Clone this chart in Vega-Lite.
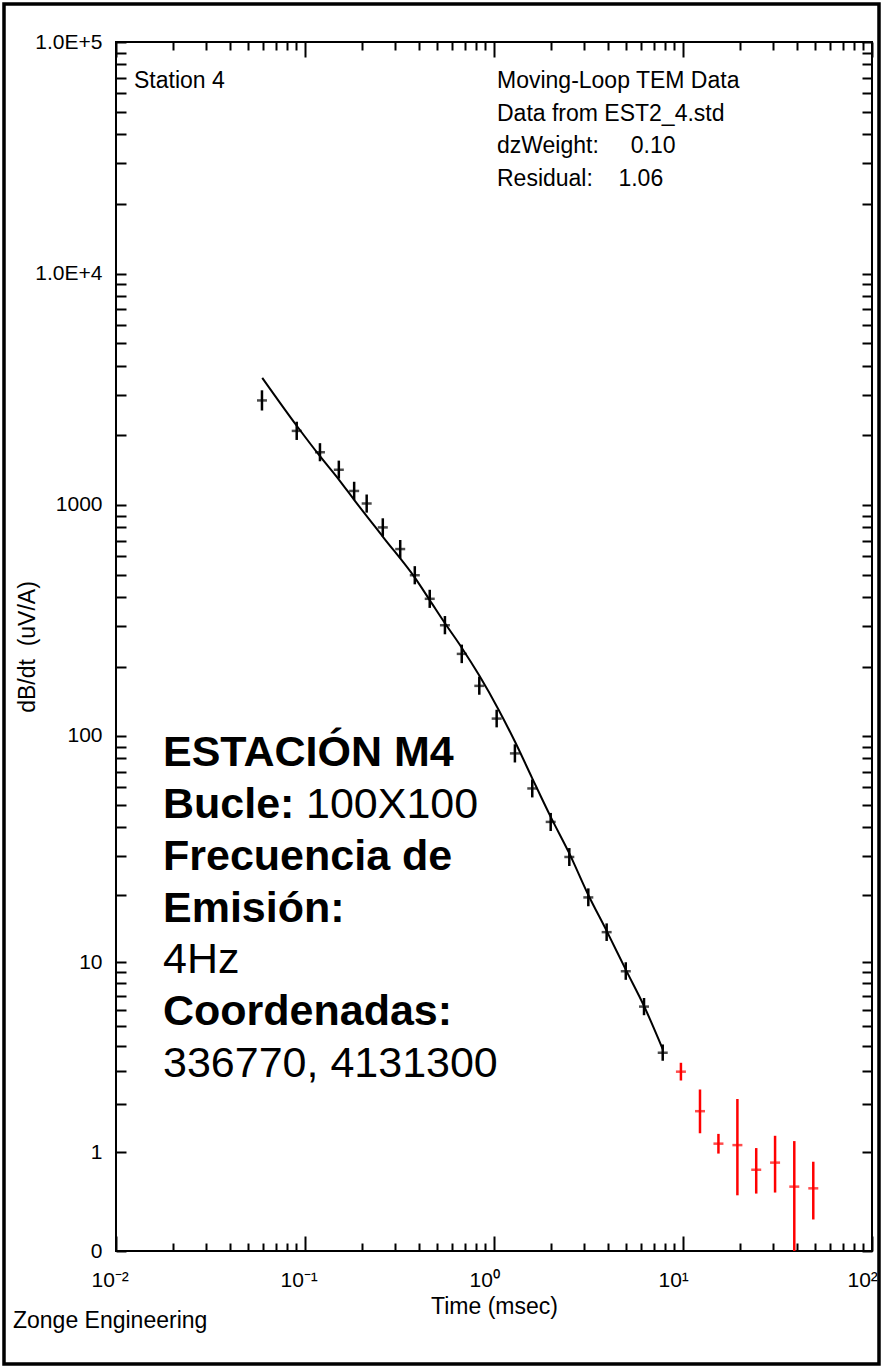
{
  "$schema": "https://vega.github.io/schema/vega-lite/v6.json",
  "width": 756,
  "height": 1209,
  "autosize": {"type": "none"},
  "padding": {"left": 116, "top": 42, "right": 10, "bottom": 116},
  "background": "white",
  "config": {
    "view": {"stroke": "black", "strokeWidth": 2},
    "font": "Liberation Sans",
    "axis": {
      "domain": false,
      "grid": false,
      "labelFont": "Liberation Sans",
      "titleFont": "Liberation Sans",
      "labelColor": "black",
      "titleColor": "black",
      "tickColor": "black",
      "tickWidth": 2,
      "labelOverlap": false,
      "labelFlush": false,
      "titleFontWeight": "normal"
    },
    "text": {"color": "black"}
  },
  "datasets": {
    "pts": [
      {"t": 0.0592, "v": 2830, "lo": 2560, "hi": 3130, "grp": "fit"},
      {"t": 0.0904, "v": 2090, "lo": 1910, "hi": 2290, "grp": "fit"},
      {"t": 0.120, "v": 1690, "lo": 1545, "hi": 1850, "grp": "fit"},
      {"t": 0.151, "v": 1420, "lo": 1300, "hi": 1555, "grp": "fit"},
      {"t": 0.182, "v": 1150, "lo": 1050, "hi": 1260, "grp": "fit"},
      {"t": 0.212, "v": 1015, "lo": 927, "hi": 1110, "grp": "fit"},
      {"t": 0.258, "v": 800, "lo": 730, "hi": 876, "grp": "fit"},
      {"t": 0.319, "v": 645, "lo": 589, "hi": 706, "grp": "fit"},
      {"t": 0.381, "v": 497, "lo": 454, "hi": 544, "grp": "fit"},
      {"t": 0.457, "v": 393, "lo": 359, "hi": 430, "grp": "fit"},
      {"t": 0.550, "v": 302, "lo": 276, "hi": 331, "grp": "fit"},
      {"t": 0.675, "v": 227, "lo": 207, "hi": 249, "grp": "fit"},
      {"t": 0.836, "v": 165, "lo": 151, "hi": 181, "grp": "fit"},
      {"t": 1.033, "v": 119, "lo": 109, "hi": 130, "grp": "fit"},
      {"t": 1.29, "v": 84, "lo": 76.7, "hi": 92, "grp": "fit"},
      {"t": 1.594, "v": 59.1, "lo": 54, "hi": 64.7, "grp": "fit"},
      {"t": 1.995, "v": 42.2, "lo": 38.5, "hi": 46.2, "grp": "fit"},
      {"t": 2.503, "v": 29.6, "lo": 27.0, "hi": 32.4, "grp": "fit"},
      {"t": 3.155, "v": 19.6, "lo": 17.9, "hi": 21.5, "grp": "fit"},
      {"t": 3.945, "v": 13.7, "lo": 12.5, "hi": 15.0, "grp": "fit"},
      {"t": 4.98, "v": 9.1, "lo": 8.3, "hi": 10.0, "grp": "fit"},
      {"t": 6.22, "v": 6.22, "lo": 5.66, "hi": 6.83, "grp": "fit"},
      {"t": 7.81, "v": 3.71, "lo": 3.38, "hi": 4.08, "grp": "fit"},
      {"t": 9.75, "v": 2.97, "lo": 2.67, "hi": 3.30, "grp": "masked"},
      {"t": 12.3, "v": 1.81, "lo": 1.335, "hi": 2.39, "grp": "masked"},
      {"t": 15.4, "v": 1.145, "lo": 0.981, "hi": 1.323, "grp": "masked"},
      {"t": 19.4, "v": 1.12, "lo": 0.444, "hi": 2.12, "grp": "masked"},
      {"t": 24.4, "v": 0.746, "lo": 0.462, "hi": 1.07, "grp": "masked"},
      {"t": 30.7, "v": 0.845, "lo": 0.473, "hi": 1.287, "grp": "masked"},
      {"t": 38.8, "v": 0.538, "lo": 0, "hi": 1.19, "grp": "masked"},
      {"t": 48.9, "v": 0.519, "lo": 0.221, "hi": 0.858, "grp": "masked"}
    ],
    "model": [
      {"t": 0.0594, "v": 3543},
      {"t": 0.0904, "v": 2200},
      {"t": 0.120, "v": 1625},
      {"t": 0.1514, "v": 1285},
      {"t": 0.1824, "v": 1050},
      {"t": 0.2596, "v": 725},
      {"t": 0.382, "v": 484},
      {"t": 0.457, "v": 388},
      {"t": 0.5504, "v": 308},
      {"t": 0.675, "v": 241.5},
      {"t": 0.836, "v": 182.8},
      {"t": 1.054, "v": 130.7},
      {"t": 1.29, "v": 94.6},
      {"t": 1.594, "v": 65.4},
      {"t": 1.995, "v": 44.4},
      {"t": 2.503, "v": 30.7},
      {"t": 3.155, "v": 20.1},
      {"t": 3.945, "v": 13.88},
      {"t": 4.98, "v": 9.25},
      {"t": 6.22, "v": 6.26},
      {"t": 7.81, "v": 3.87}
    ]
  },
  "layer": [
    {
      "data": {"values": [{}]},
      "mark": {"type": "rect", "fill": "transparent", "stroke": "black", "strokeWidth": 3.5},
      "encoding": {
        "x": {"datum": 0.002555, "type": "quantitative", "scale": {"type": "log", "domain": [0.01, 100], "nice": false}, "axis": null},
        "x2": {"datum": 108.9},
        "y": {"datum": -1.246, "type": "quantitative", "scale": {"type": "symlog", "constant": 0.6, "domain": [0, 100000], "nice": false, "zero": false}, "axis": null},
        "y2": {"datum": 145930}
      }
    },
    {
      "data": {"name": "model"},
      "mark": {"type": "line", "color": "black", "strokeWidth": 2, "interpolate": "monotone"},
      "encoding": {
        "x": {
          "field": "t", "type": "quantitative",
          "axis": {
            "orient": "bottom",
            "values": [0.01,0.02,0.03,0.04,0.05,0.06,0.07,0.08,0.09,0.1,0.2,0.3,0.4,0.5,0.6,0.7,0.8,0.9,1,2,3,4,5,6,7,8,9,10,20,30,40,50,60,70,80,90,100],
            "labelExpr": "datum.value == 0.01 ? '10⁻²' : datum.value == 0.1 ? '10⁻¹' : datum.value == 1 ? '10⁰' : datum.value == 10 ? '10¹' : datum.value == 100 ? '10²' : ''",
            "tickSize": {"condition": {"test": "indexof([0.01, 0.1, 1, 10, 100], datum.value) >= 0", "value": -15}, "value": -8},
            "labelPadding": 33,
            "labelFontSize": 21,
            "labelAlign": "left",
            "labelOffset": -25,
            "labelBaseline": "top",
            "title": "Time (msec)",
            "titleFontSize": 23,
            "titlePadding": -2
          }
        },
        "y": {
          "field": "v", "type": "quantitative",
          "axis": {
            "orient": "left",
            "values": [0,1,2,3,4,5,6,7,8,9,10,20,30,40,50,60,70,80,90,100,200,300,400,500,600,700,800,900,1000,2000,3000,4000,5000,6000,7000,8000,9000,10000,20000,30000,40000,50000,60000,70000,80000,90000,100000],
            "labelExpr": "datum.value == 100000 ? '1.0E+5' : datum.value == 10000 ? '1.0E+4' : indexof([0, 1, 10, 100, 1000], datum.value) >= 0 ? '' + datum.value : ''",
            "tickSize": -10,
            "labelPadding": 24,
            "labelFontSize": 21,
            "title": "dB/dt\u00a0 (uV/A)",
            "titleFontSize": 23,
            "titlePadding": -5
          }
        }
      }
    },
    {
      "data": {"name": "pts"},
      "mark": {"type": "rule", "strokeWidth": 2.5},
      "encoding": {
        "x": {"field": "t", "type": "quantitative", "axis": null},
        "y": {"field": "lo", "type": "quantitative", "axis": null},
        "y2": {"field": "hi"},
        "color": {"field": "grp", "type": "nominal", "scale": {"domain": ["fit", "masked"], "range": ["#000000", "#ff0000"]}, "legend": null}
      }
    },
    {
      "data": {"name": "pts"},
      "mark": {"type": "tick", "orient": "horizontal", "size": 10, "thickness": 2.5},
      "encoding": {
        "x": {
          "field": "t", "type": "quantitative",
          "axis": {
            "orient": "top",
            "values": [0.01,0.02,0.03,0.04,0.05,0.06,0.07,0.08,0.09,0.1,0.2,0.3,0.4,0.5,0.6,0.7,0.8,0.9,1,2,3,4,5,6,7,8,9,10,20,30,40,50,60,70,80,90,100],
            "labels": false,
            "tickSize": {"condition": {"test": "indexof([0.01, 0.1, 1, 10, 100], datum.value) >= 0", "value": -15}, "value": -8},
            "title": null
          }
        },
        "y": {
          "field": "v", "type": "quantitative",
          "axis": {
            "orient": "right",
            "values": [0,1,2,3,4,5,6,7,8,9,10,20,30,40,50,60,70,80,90,100,200,300,400,500,600,700,800,900,1000,2000,3000,4000,5000,6000,7000,8000,9000,10000,20000,30000,40000,50000,60000,70000,80000,90000,100000],
            "labels": false,
            "tickSize": -10,
            "title": null
          }
        },
        "color": {"field": "grp", "type": "nominal", "legend": null}
      }
    },
    {
      "data": {"values": [{}]},
      "mark": {"type": "text", "align": "left", "baseline": "alphabetic", "fontSize": 23, "font": "Liberation Sans", "text": "Station 4"},
      "encoding": {
        "x": {"datum": 0.01245, "type": "quantitative", "axis": null},
        "y": {"datum": 63270, "type": "quantitative", "axis": null}
      }
    },
    {
      "data": {"values": [{}]},
      "mark": {"type": "text", "align": "left", "baseline": "alphabetic", "fontSize": 23, "font": "Liberation Sans", "lineHeight": 32.7,
        "text": ["Moving-Loop TEM Data", "Data from EST2_4.std", "dzWeight:\u00a0\u00a0\u00a0\u00a0\u00a00.10", "Residual:\u00a0\u00a0\u00a0\u00a01.06"]},
      "encoding": {
        "x": {"datum": 1.037, "type": "quantitative", "axis": null},
        "y": {"datum": 63270, "type": "quantitative", "axis": null}
      }
    },
    {
      "data": {"values": [{}]},
      "mark": {"type": "text", "align": "left", "baseline": "alphabetic", "fontSize": 43, "fontWeight": "bold", "font": "Liberation Sans", "lineHeight": 51.7,
        "text": ["ESTACIÓN M4", "Bucle:", "Frecuencia de", "Emisión:"]},
      "encoding": {
        "x": {"datum": 0.01773, "type": "quantitative", "axis": null},
        "y": {"datum": 73.67, "type": "quantitative", "axis": null}
      }
    },
    {
      "data": {"values": [{}]},
      "mark": {"type": "text", "align": "left", "baseline": "alphabetic", "fontSize": 43, "font": "Liberation Sans", "text": "100X100"},
      "encoding": {
        "x": {"datum": 0.1012, "type": "quantitative", "axis": null},
        "y": {"datum": 43.82, "type": "quantitative", "axis": null}
      }
    },
    {
      "data": {"values": [{}]},
      "mark": {"type": "text", "align": "left", "baseline": "alphabetic", "fontSize": 43, "font": "Liberation Sans", "text": "4Hz"},
      "encoding": {
        "x": {"datum": 0.01773, "type": "quantitative", "axis": null},
        "y": {"datum": 8.90, "type": "quantitative", "axis": null}
      }
    },
    {
      "data": {"values": [{}]},
      "mark": {"type": "text", "align": "left", "baseline": "alphabetic", "fontSize": 43, "fontWeight": "bold", "font": "Liberation Sans", "text": "Coordenadas:"},
      "encoding": {
        "x": {"datum": 0.01773, "type": "quantitative", "axis": null},
        "y": {"datum": 5.078, "type": "quantitative", "axis": null}
      }
    },
    {
      "data": {"values": [{}]},
      "mark": {"type": "text", "align": "left", "baseline": "alphabetic", "fontSize": 43, "font": "Liberation Sans", "text": "336770, 4131300"},
      "encoding": {
        "x": {"datum": 0.01773, "type": "quantitative", "axis": null},
        "y": {"datum": 2.796, "type": "quantitative", "axis": null}
      }
    },
    {
      "data": {"values": [{}]},
      "mark": {"type": "text", "align": "left", "baseline": "alphabetic", "fontSize": 23, "font": "Liberation Sans", "text": "Zonge Engineering"},
      "encoding": {
        "x": {"datum": 0.00285, "type": "quantitative", "axis": null},
        "y": {"datum": -0.6905, "type": "quantitative", "axis": null}
      }
    }
  ],
  "resolve": {"axis": {"x": "independent", "y": "independent"}}
}
